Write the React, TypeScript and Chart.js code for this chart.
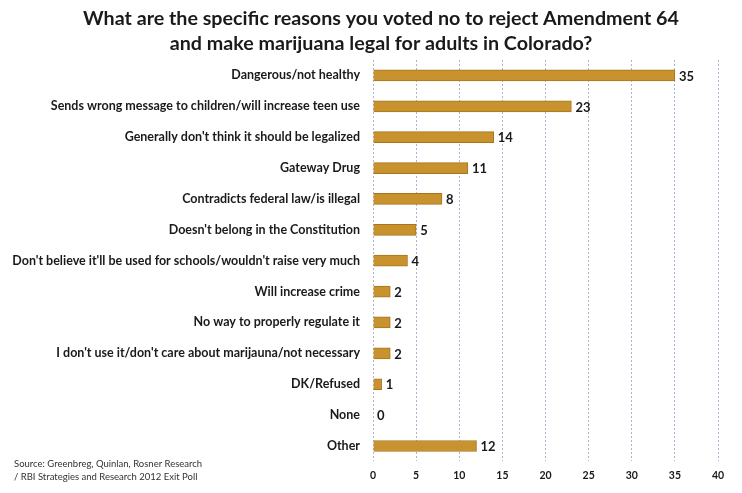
import React, { useEffect, useRef } from "react";
import { Chart, registerables } from "chart.js";

Chart.register(...registerables);

const categories = [
  "Dangerous/not healthy",
  "Sends wrong message to children/will increase teen use",
  "Generally don't think it should be legalized",
  "Gateway Drug",
  "Contradicts federal law/is illegal",
  "Doesn't belong in the Constitution",
  "Don't believe it'll be used for schools/wouldn't raise very much",
  "Will increase crime",
  "No way to properly regulate it",
  "I don't use it/don't care about marijauna/not necessary",
  "DK/Refused",
  "None",
  "Other",
];
const values = [35, 23, 14, 11, 8, 5, 4, 2, 2, 2, 1, 0, 12];
const titleLines = [
  "What are the specific reasons you voted no to reject Amendment 64",
  "and make marijuana legal for adults in Colorado?",
];
const sourceLines = [
  "Source: Greenbreg, Quinlan, Rosner Research",
  "/ RBI Strategies and Research 2012 Exit Poll",
];

const FONT = "Lato, 'Open Sans', sans-serif";

export default function App() {
  const ref = useRef<HTMLCanvasElement | null>(null);
  useEffect(() => {
    const prevMargin = document.body.style.margin;
    document.body.style.margin = "0";
    const canvas = ref.current!;
    const labelPlugin = {
      id: "extras",
      afterDatasetsDraw(chart: any) {
        const ctx = chart.ctx;
        const meta = chart.getDatasetMeta(0);
        ctx.save();
        ctx.font = `bold 13px ${FONT}`;
        ctx.fillStyle = "#1a1a1a";
        ctx.textBaseline = "middle";
        ctx.textAlign = "left";
        meta.data.forEach((bar: any, i: number) => {
          ctx.fillText(String(values[i]), bar.x + 4, bar.y + 1);
        });
        ctx.font = `9.5px ${FONT}`;
        ctx.fillStyle = "#333";
        sourceLines.forEach((s, i) => ctx.fillText(s, 14, 464 + i * 13));
        ctx.font = `bold 19.7px ${FONT}`;
        ctx.fillStyle = "#1a1a1a";
        ctx.textAlign = "center";
        titleLines.forEach((s, i) => ctx.fillText(s, 381, 19 + i * 25));
        ctx.restore();
      },
    };
    const chart = new Chart(canvas, {
      type: "bar",
      data: {
        labels: categories,
        datasets: [
          {
            data: values,
            backgroundColor: "#C8922F",
            borderColor: "#A9741C",
            borderWidth: 1,
            barThickness: 11,
          },
        ],
      },
      options: {
        indexAxis: "y",
        animation: false,
        responsive: false,
        layout: { padding: { left: 0, right: 24, top: 60, bottom: 3 } },
        plugins: {
          legend: { display: false },
          tooltip: { enabled: false },
          title: { display: false },
        },
        scales: {
          x: {
            min: 0,
            max: 40,
            ticks: {
              stepSize: 5,
              color: "#1a1a1a",
              font: { family: FONT, size: 10.5, weight: "bold" },
              padding: 8,
            },
            grid: {
              color: "#a9b4cf",
              drawTicks: false,
            },
            border: { display: false, dash: [2, 2] },
          },
          y: {
            ticks: {
              color: "#1a1a1a",
              font: { family: FONT, size: 12.5, weight: "bold" },
              padding: 13,
              autoSkip: false,
            },
            grid: { display: false, drawTicks: false },
            border: { display: false },
            afterFit(scale: any) {
              scale.width = 373;
            },
          },
        },
      },
      plugins: [labelPlugin],
    });
    return () => {
      chart.destroy();
      document.body.style.margin = prevMargin;
    };
  }, []);
  return (
    <div style={{ width: 742, height: 493, background: "#fff" }}>
      <canvas ref={ref} width={742} height={493} style={{ display: "block" }} />
    </div>
  );
}
